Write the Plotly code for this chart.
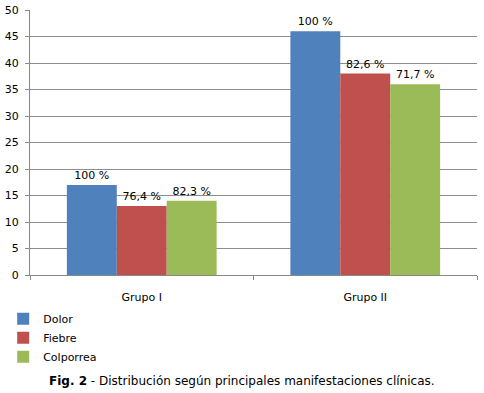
import plotly.graph_objects as go

categories = ["Grupo I", "Grupo II"]
series_names = ["Dolor", "Fiebre", "Colporrea"]
dolor = [17, 46]
fiebre = [13, 38]
colporrea = [14, 36]
dolor_lbl = ["100 %", "100 %"]
fiebre_lbl = ["76,4 %", "82,6 %"]
colporrea_lbl = ["82,3 %", "71,7 %"]
y_ticks = [0, 5, 10, 15, 20, 25, 30, 35, 40, 45, 50]

colors = ["#4F81BD", "#C0504D", "#9BBB59"]
font = "DejaVu Sans, Verdana, sans-serif"

fig = go.Figure()
for name, vals, lbls, col in zip(series_names, [dolor, fiebre, colporrea],
                                 [dolor_lbl, fiebre_lbl, colporrea_lbl], colors):
    fig.add_trace(go.Bar(
        name=name, x=categories, y=vals, text=lbls,
        textposition="outside", marker=dict(color=col, line=dict(width=0)),
        textfont=dict(family=font, size=11, color="#000"),
        cliponaxis=False,
    ))

fig.update_layout(
    width=484, height=393,
    margin=dict(l=30, r=7, t=10, b=118, autoexpand=False),
    barmode="group", bargap=0.33, bargroupgap=0,
    plot_bgcolor="white", paper_bgcolor="white",
    font=dict(family=font, size=11, color="#000"),
    showlegend=True,
    legend=dict(x=-0.06, y=-0.11, xanchor="left", yanchor="top",
                orientation="v", font=dict(family=font, size=11),
                itemwidth=30, tracegroupgap=0, bgcolor="rgba(0,0,0,0)"),
    xaxis=dict(showline=True, linecolor="#888", linewidth=1,
               ticks="outside", tickson="boundaries", ticklen=4,
               tickcolor="#888", showgrid=False, automargin=False,
               ticklabelstandoff=12, tickfont=dict(size=11)),
    yaxis=dict(range=[0, 50], tickvals=y_ticks, showline=True,
               linecolor="#888", linewidth=1, ticks="outside", ticklen=4,
               tickcolor="#888", showgrid=True, gridcolor="#8c8c8c",
               gridwidth=1, zeroline=False, automargin=False,
               ticklabelstandoff=4, tickfont=dict(size=11)),
    annotations=[dict(
        text="<b>Fig. 2</b> - Distribución según principales manifestaciones clínicas.",
        xref="paper", yref="paper", x=0.474, y=-0.40, xanchor="center",
        yanchor="middle", showarrow=False,
        font=dict(family=font, size=12, color="#000"))],
)

fig.write_html("out.html", config={"displayModeBar": False},
               post_script="document.body.style.margin='0';document.body.style.padding='0';")
